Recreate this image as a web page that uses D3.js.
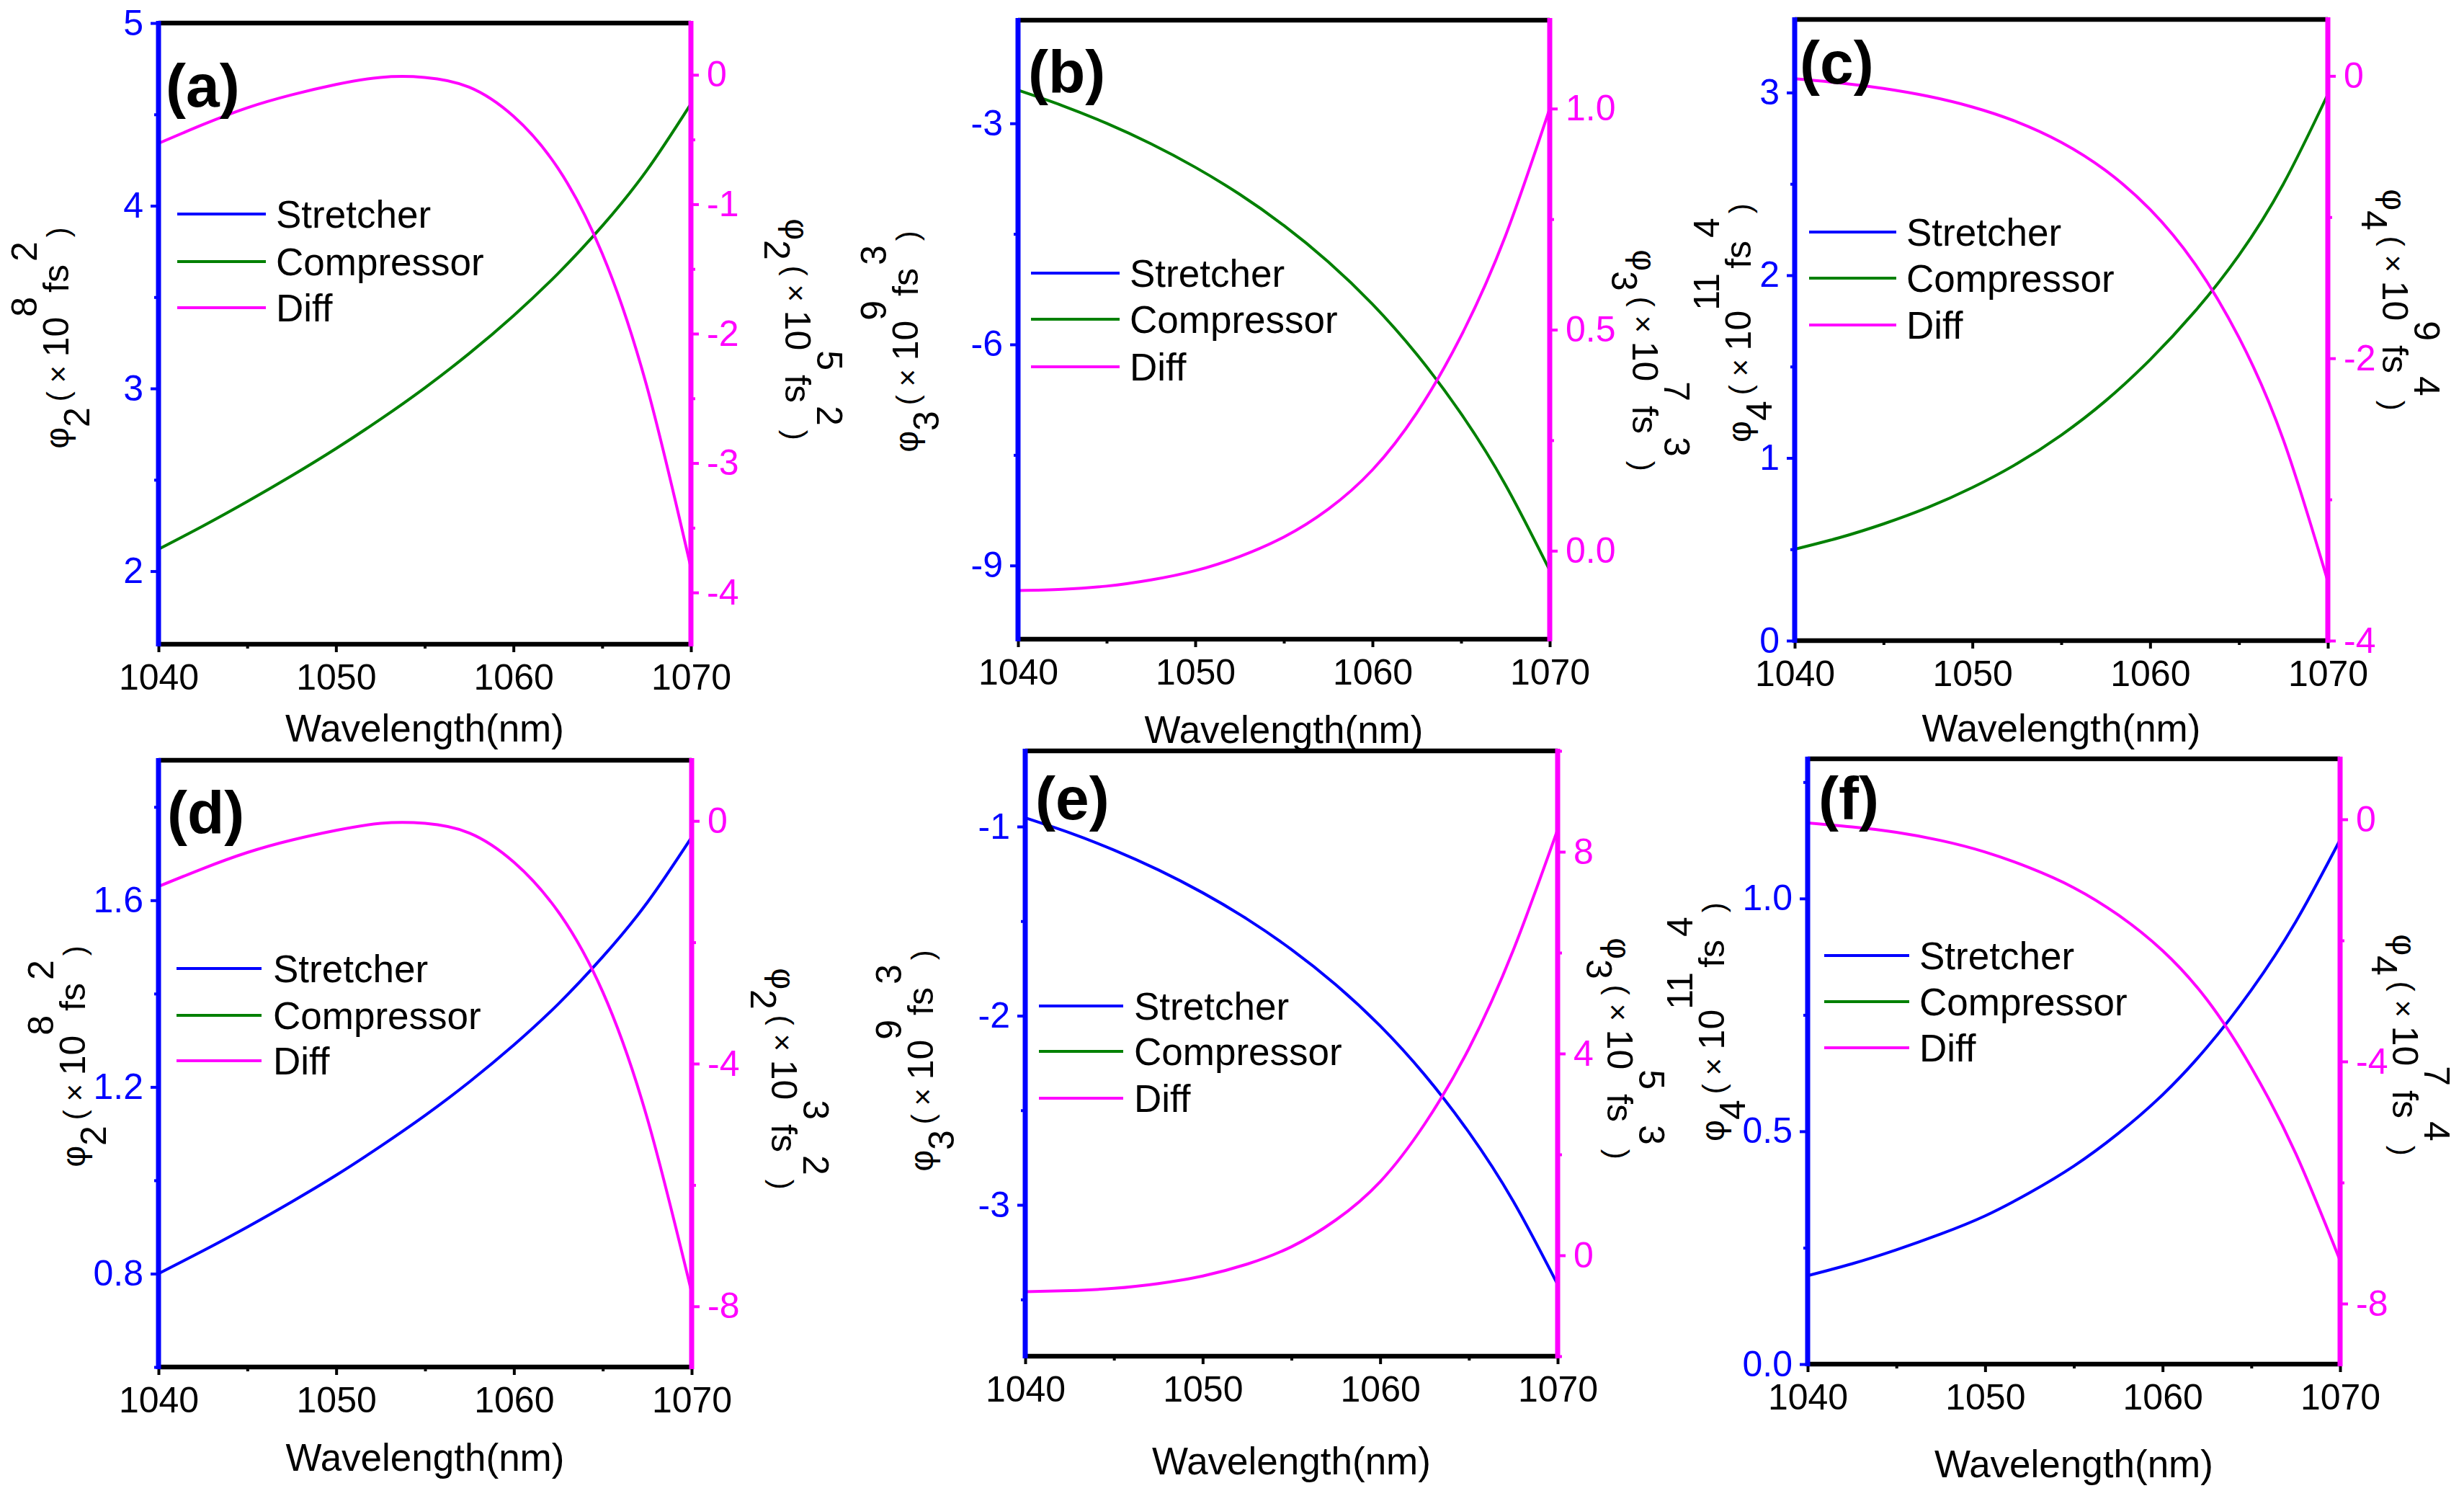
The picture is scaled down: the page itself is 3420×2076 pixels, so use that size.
<!DOCTYPE html>
<html><head><meta charset="utf-8">
<script src="https://cdn.jsdelivr.net/npm/d3@7"></script>
<style>body{margin:0;background:#fff}</style>
</head><body>
<svg id="c" width="3420" height="2076" xmlns="http://www.w3.org/2000/svg"></svg>
<script>
// ---------------- DATA ----------------
const wavelength = [1040,1042.5,1045,1047.5,1050,1052.5,1055,1057.5,1060,1062.5,1065,1067.5,1070];
const xTicks = [1040,1050,1060,1070];
const legendLabels = ["Stretcher","Compressor","Diff"];
const panelLetters = ["(a)","(b)","(c)","(d)","(e)","(f)"];

// (a) phi2, compressor (x1e8 fs^2) and diff (x1e5 fs^2)
const compressorA = [2.12,2.247,2.381,2.522,2.671,2.831,3.003,3.191,3.398,3.628,3.889,4.192,4.558];
const diffA = [-0.53,-0.385,-0.255,-0.155,-0.075,-0.02,-0.02,-0.095,-0.32,-0.72,-1.38,-2.40,-3.81];
const leftTicksA = [2,3,4,5];
const rightTicksA = [-4,-3,-2,-1,0];

// (b) phi3, compressor (x1e9 fs^3) and diff (x1e7 fs^3)
const compressorB = [-2.55,-2.759,-3.0,-3.277,-3.596,-3.962,-4.386,-4.878,-5.454,-6.135,-6.941,-7.904,-9.066];
const diffB = [-0.090,-0.087,-0.080,-0.066,-0.045,-0.013,0.031,0.094,0.183,0.312,0.486,0.712,1.00];
const leftTicksB = [-9,-6,-3];
const rightTicksB = [0.0,0.5,1.0];

// (c) phi4, compressor (x1e11 fs^4) and diff (x1e9 fs^4)
const compressorC = [0.50,0.563,0.639,0.729,0.838,0.968,1.125,1.313,1.538,1.80,2.11,2.50,2.99];
const diffC = [-0.02,-0.049,-0.089,-0.144,-0.22,-0.325,-0.47,-0.67,-0.946,-1.327,-1.853,-2.579,-3.58];
const leftTicksC = [0,1,2,3];
const rightTicksC = [-4,-2,0];

// (d) phi2, stretcher (x1e8 fs^2) and diff (x1e3 fs^2)
const stretcherD = [0.80,0.849,0.900,0.954,1.011,1.073,1.139,1.211,1.290,1.378,1.479,1.595,1.735];
const diffD = [-1.08,-0.785,-0.52,-0.315,-0.155,-0.04,-0.04,-0.20,-0.68,-1.50,-2.82,-4.90,-7.77];
const leftTicksD = [0.8,1.2,1.6];
const rightTicksD = [-8,-4,0];

// (e) phi3, stretcher (x1e9 fs^3) and diff (x1e5 fs^3)
const stretcherE = [-0.954,-1.033,-1.124,-1.229,-1.35,-1.489,-1.65,-1.836,-2.054,-2.312,-2.617,-2.981,-3.421];
const diffE = [-0.72,-0.70,-0.655,-0.56,-0.41,-0.175,0.17,0.70,1.46,2.60,4.10,6.05,8.44];
const leftTicksE = [-3,-2,-1];
const rightTicksE = [0,4,8];

// (f) phi4, stretcher (x1e11 fs^4) and diff (x1e7 fs^4)
const stretcherF = [0.19,0.2155,0.2455,0.2795,0.3185,0.368,0.4255,0.4955,0.5785,0.6805,0.8035,0.95,1.126];
const diffF = [-0.06,-0.125,-0.215,-0.35,-0.54,-0.80,-1.13,-1.58,-2.17,-2.98,-4.10,-5.52,-7.29];
const leftTicksF = [0.0,0.5,1.0];
const rightTicksF = [-8,-4,0];

// ---------------- LAYOUT ----------------
const FONT = "'Liberation Sans', Arial, Helvetica, sans-serif";
const BLUE = "#0000ff", GREEN = "#008000", MAG = "#ff00ff";
const f0 = d => String(d);
const f1 = d => d.toFixed(1);

const panels = [
 {x0:220,x1:959,y0:32,y1:894, ld:[1.6,5], rd:[-4.4,0.4], series:compressorA, color:GREEN, diff:diffA,
  lt:leftTicksA, rt:rightTicksA, lf:f0, rf:f0, n:2, le:8, re:5,
  lbl:[230,148], leg:[246,369,383,[297,363,427]], ltitle:[95,469], rtitle:[1090,457], xt:1029},
 {x0:1413,x1:2151,y0:28,y1:887, ld:[-10,-1.6], rd:[-0.2,1.2], series:compressorB, color:GREEN, diff:diffB,
  lt:leftTicksB, rt:rightTicksB, lf:f0, rf:f1, n:3, le:9, re:7,
  lbl:[1427,129], leg:[1431,1554,1568,[379,443,509]], ltitle:[1274,474], rtitle:[2266,500], xt:1031},
 {x0:2491,x1:3231,y0:27,y1:889, ld:[0,3.4], rd:[-4,0.4], series:compressorC, color:GREEN, diff:diffC,
  lt:leftTicksC, rt:rightTicksC, lf:f0, rf:f0, n:4, le:11, re:9,
  lbl:[2498,116], leg:[2511,2632,2646,[322,386,451]], ltitle:[2430,448], rtitle:[3307,416], xt:1029},
 {x0:220,x1:960,y0:1055,y1:1897, ld:[0.6,1.9], rd:[-9,1], series:stretcherD, color:BLUE, diff:diffD,
  lt:leftTicksD, rt:rightTicksD, lf:f1, rf:f0, n:2, le:8, re:3,
  lbl:[232,1157], leg:[245,363,379,[1344,1409,1472]], ltitle:[118,1466], rtitle:[1071,1497], xt:2041},
 {x0:1423,x1:2162,y0:1042,y1:1882, ld:[-3.8,-0.6], rd:[-2,10], series:stretcherE, color:BLUE, diff:diffE,
  lt:leftTicksE, rt:rightTicksE, lf:f0, rf:f0, n:3, le:9, re:5,
  lbl:[1437,1137], leg:[1442,1559,1574,[1396,1459,1524]], ltitle:[1295,1472], rtitle:[2231,1455], xt:2046},
 {x0:2509,x1:3248,y0:1053,y1:1893, ld:[0,1.3], rd:[-9,1], series:stretcherF, color:BLUE, diff:diffF,
  lt:leftTicksF, rt:rightTicksF, lf:f1, rf:f0, n:4, le:11, re:7,
  lbl:[2524,1137], leg:[2532,2650,2664,[1326,1390,1454]], ltitle:[2393,1418], rtitle:[3321,1450], xt:2050}
];

const svg = d3.select("#c");
svg.append("rect").attr("width",3420).attr("height",2076).attr("fill","#fff");

function minors(ticks, domain){
  const step = ticks[1]-ticks[0];
  const lo = Math.min(...domain), hi = Math.max(...domain);
  const out = [];
  for (let v = ticks[0] - step/2 - step*10; v <= hi + 1e-9; v += step) {
    if (v >= lo - 1e-9) out.push(+v.toFixed(6));
  }
  return out;
}

function yTitle(g, x, y, angle, n, exp){
  const t = g.append("text")
    .attr("transform", `translate(${x},${y}) rotate(${angle})`)
    .attr("text-anchor","middle").attr("font-family",FONT).attr("fill","#000");
  t.append("tspan").attr("font-size",46).text("φ");
  t.append("tspan").attr("font-size",50).attr("dy",29).text(n);
  t.append("tspan").attr("font-size",42).attr("dy",-29).attr("dx",8).text("( × ");
  t.append("tspan").attr("font-size",50).text("10");
  t.append("tspan").attr("font-size",50).attr("dy",-44).text(exp);
  t.append("tspan").attr("font-size",50).attr("dy",44).attr("dx",6).text("fs");
  t.append("tspan").attr("font-size",50).attr("dy",-44).attr("dx",4).text(n);
  t.append("tspan").attr("font-size",42).attr("dy",44).attr("dx",6).text(")");
}

function styleAxis(sel, color){
  sel.select(".domain").remove();
  sel.selectAll(".tick line").attr("stroke",color).attr("stroke-width",4);
  sel.selectAll(".tick text").attr("fill",color).attr("font-family",FONT).attr("font-size",50);
}

panels.forEach((p, i) => {
  const g = svg.append("g");
  const x = d3.scaleLinear().domain([1040,1070]).range([p.x0,p.x1]);
  const yl = d3.scaleLinear().domain(p.ld).range([p.y1,p.y0]);
  const yr = d3.scaleLinear().domain(p.rd).range([p.y1,p.y0]);
  const mk = ys => d3.line().x((d,k)=>x(wavelength[k])).y(d=>ys(d)).curve(d3.curveNatural);

  // curves
  g.append("path").datum(p.series).attr("d",mk(yl)).attr("fill","none")
    .attr("stroke",p.color).attr("stroke-width",4);
  g.append("path").datum(p.diff).attr("d",mk(yr)).attr("fill","none")
    .attr("stroke",MAG).attr("stroke-width",4);

  // bottom axis
  const xb = g.append("g").attr("transform",`translate(0,${p.y1})`)
    .call(d3.axisBottom(x).tickValues(xTicks).tickSize(11).tickPadding(16).tickFormat(f0));
  styleAxis(xb,"#000");
  const xbm = g.append("g").attr("transform",`translate(0,${p.y1})`)
    .call(d3.axisBottom(x).tickValues(minors(xTicks,[1040,1070])).tickSize(6).tickFormat(""));
  styleAxis(xbm,"#000");

  // left axis
  const al = g.append("g").attr("transform",`translate(${p.x0},0)`)
    .call(d3.axisLeft(yl).tickValues(p.lt).tickSize(11).tickPadding(10).tickFormat(p.lf));
  styleAxis(al,BLUE);
  const alm = g.append("g").attr("transform",`translate(${p.x0},0)`)
    .call(d3.axisLeft(yl).tickValues(minors(p.lt,p.ld)).tickSize(6).tickFormat(""));
  styleAxis(alm,BLUE);

  // right axis
  const ar = g.append("g").attr("transform",`translate(${p.x1},0)`)
    .call(d3.axisRight(yr).tickValues(p.rt).tickSize(11).tickPadding(11).tickFormat(p.rf));
  styleAxis(ar,MAG);
  const arm = g.append("g").attr("transform",`translate(${p.x1},0)`)
    .call(d3.axisRight(yr).tickValues(minors(p.rt,p.rd)).tickSize(6).tickFormat(""));
  styleAxis(arm,MAG);

  // frame
  g.append("line").attr("x1",p.x0).attr("x2",p.x1).attr("y1",p.y0).attr("y2",p.y0)
    .attr("stroke","#000").attr("stroke-width",6.5);
  g.append("line").attr("x1",p.x0).attr("x2",p.x1).attr("y1",p.y1).attr("y2",p.y1)
    .attr("stroke","#000").attr("stroke-width",6.5);
  g.append("line").attr("x1",p.x0).attr("x2",p.x0).attr("y1",p.y0-3).attr("y2",p.y1+3)
    .attr("stroke",BLUE).attr("stroke-width",7);
  g.append("line").attr("x1",p.x1).attr("x2",p.x1).attr("y1",p.y0-3).attr("y2",p.y1+3)
    .attr("stroke",MAG).attr("stroke-width",7);

  // panel letter
  g.append("text").attr("x",p.lbl[0]).attr("y",p.lbl[1]).attr("font-family",FONT)
    .attr("font-weight","bold").attr("font-size",84).attr("fill","#000").text(panelLetters[i]);

  // legend
  const legColors = [BLUE,GREEN,MAG];
  legendLabels.forEach((lab,k) => {
    const yy = p.leg[3][k];
    g.append("line").attr("x1",p.leg[0]).attr("x2",p.leg[1]).attr("y1",yy).attr("y2",yy)
      .attr("stroke",legColors[k]).attr("stroke-width",4);
    g.append("text").attr("x",p.leg[2]).attr("y",yy+19).attr("font-family",FONT)
      .attr("font-size",53).attr("fill","#000").text(lab);
  });

  // x title
  g.append("text").attr("x",(p.x0+p.x1)/2).attr("y",p.xt).attr("text-anchor","middle")
    .attr("font-family",FONT).attr("font-size",53).attr("fill","#000").text("Wavelength(nm)");

  // y titles
  yTitle(g, p.ltitle[0], p.ltitle[1], -90, p.n, p.le);
  yTitle(g, p.rtitle[0], p.rtitle[1], 90, p.n, p.re);
});
</script>
</body></html>
